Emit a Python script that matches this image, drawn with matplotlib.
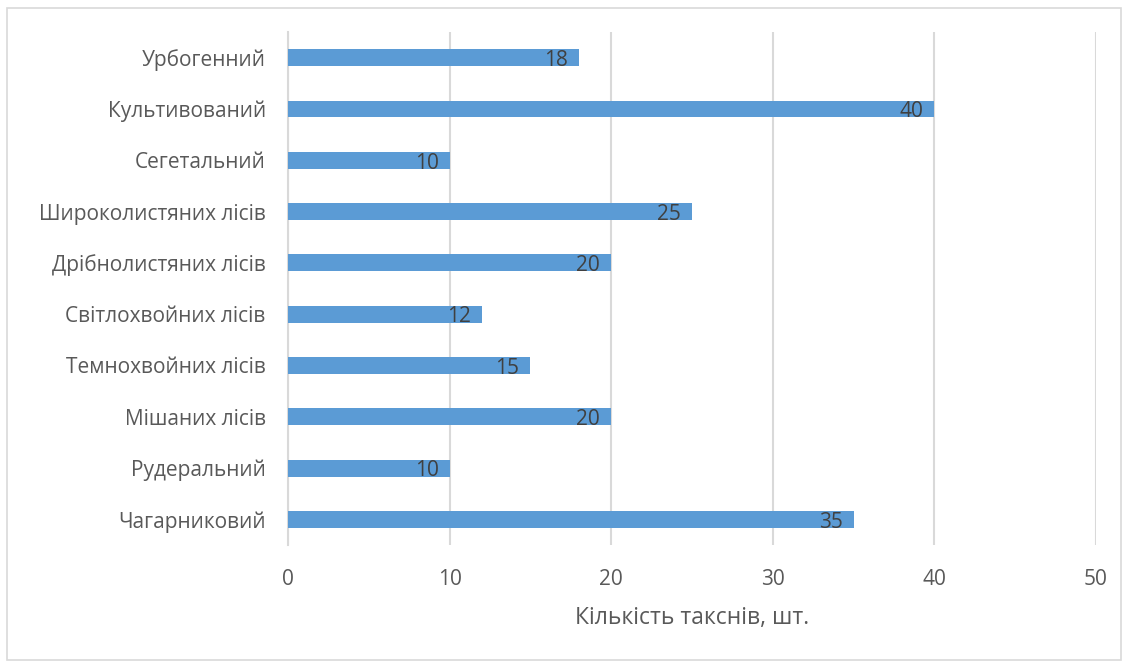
import matplotlib.pyplot as plt
from matplotlib.patches import Rectangle

plt.rcParams['font.family'] = ['Open Sans', 'DejaVu Sans']

# типи рослинності та кількість таксонів
categories = ['Урбогенний', 'Культивований', 'Сегетальний', 'Широколистяних лісів',
              'Дрібнолистяних лісів', 'Світлохвойних лісів', 'Темнохвойних лісів',
              'Мішаних лісів', 'Рудеральний', 'Чагарниковий']
counts = [18, 40, 10, 25, 20, 12, 15, 20, 10, 35]
x_ticks = [0, 10, 20, 30, 40, 50]

text_color = '#595959'
bar_color = '#5B9BD5'
grid_color = '#D9D9D9'

fig = plt.figure(figsize=(11.23, 6.61), dpi=100)
ax = fig.add_axes([0.2565, 0.1755, 0.7195, 0.776])

# зовнішня рамка діаграми
fig.patches.append(Rectangle((7 / 1123, 1 / 661), 1114 / 1123, 652 / 661,
                             transform=fig.transFigure, fill=False,
                             edgecolor='#D9D9D9', linewidth=1.2))

ypos = list(range(len(categories)))[::-1]
bars = ax.barh(ypos, counts, height=0.33, color=bar_color, zorder=3)

for b, v in zip(bars, counts):
    ax.annotate(str(v), (b.get_width(), b.get_y() + b.get_height() / 2),
                xytext=(-8, -2), textcoords='offset points',
                ha='right', va='center', fontsize=15, color='#404040', zorder=4)

ax.set_xlim(0, 50)
ax.set_ylim(-0.5, len(categories) - 0.5)
ax.set_xticks(x_ticks)
ax.set_yticks(ypos)
ax.set_yticklabels(categories)
ax.tick_params(axis='both', length=0, labelsize=15, labelcolor=text_color)
ax.tick_params(axis='x', pad=17)
ax.tick_params(axis='y', pad=16)

ax.grid(axis='x', color=grid_color, linewidth=1.5, zorder=0)
for s in ['top', 'right', 'bottom']:
    ax.spines[s].set_visible(False)
ax.spines['left'].set_color(grid_color)
ax.spines['left'].set_linewidth(1.5)

ax.set_xlabel('Кількість такснів, шт.', fontsize=16.5, color=text_color, labelpad=12)

fig.savefig('out.png', dpi=100)
